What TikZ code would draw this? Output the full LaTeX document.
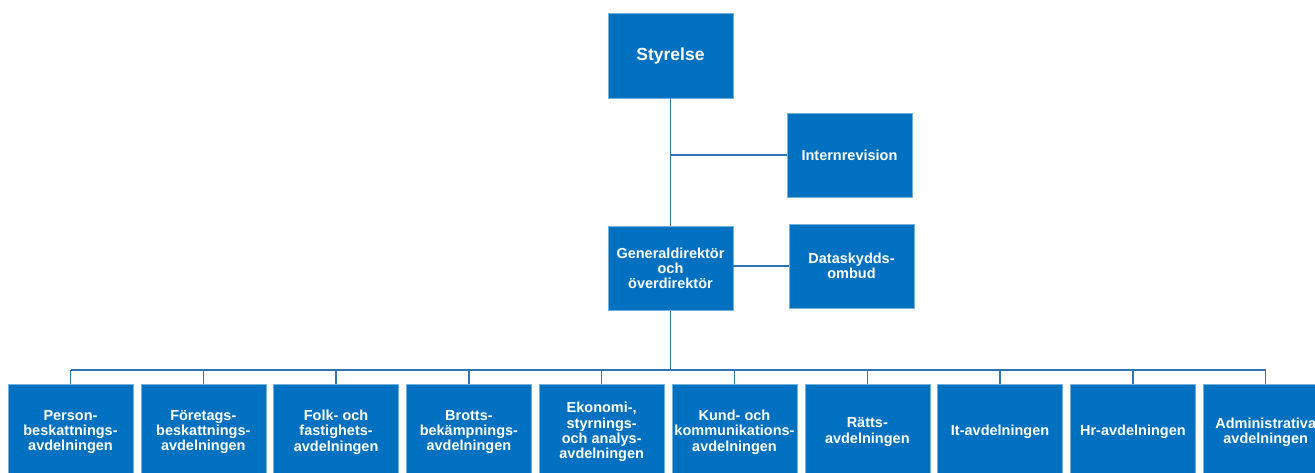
\documentclass[tikz,border=0pt]{standalone}
\usepackage{fontspec}
\setmainfont{Liberation Sans}
\definecolor{boxblue}{HTML}{0070C0}
\definecolor{lineblue}{HTML}{2E75B6}
\begin{document}
\begin{tikzpicture}[x=1pt,y=-1pt,
  unit/.style={fill=boxblue, draw=boxblue!55!white, line width=0.6pt, text=white,
    font=\bfseries\fontsize{14.5}{15.3}\selectfont, align=center, inner sep=0pt,
    minimum width=125pt, minimum height=84pt},
  dept/.style={unit, minimum height=96pt},
  conn/.style={draw=lineblue, line width=1.4pt}]
\useasboundingbox (0,0) rectangle (1315,472);
\clip (0,0) rectangle (1315,472);
\node[unit, minimum height=85pt, font=\bfseries\fontsize{17.5}{19}\selectfont] (sty) at (670.5,55.5) {Styrelse};
\node[unit] (ir) at (849.5,155) {Internrevision};
\node[unit] (gd) at (670.5,268.5) {Generaldirektör\\och\\överdirektör};
\node[unit] (ds) at (851.5,266) {Dataskydds-\\ombud};
\node[dept] (d1) at (70.5,432) {Person-\\beskattnings-\\avdelningen};
\node[dept] (d2) at (203.3,432) {Företags-\\beskattnings-\\avdelningen};
\node[dept] (d3) at (336.1,432) {Folk- och\\fastighets-\\avdelningen};
\node[dept] (d4) at (468.9,432) {Brotts-\\bekämpnings-\\avdelningen};
\node[dept] (d5) at (601.7,432) {Ekonomi-,\\styrnings-\\och analys-\\avdelningen};
\node[dept] (d6) at (734.5,432) {Kund- och\\kommunikations-\\avdelningen};
\node[dept] (d7) at (867.3,432) {Rätts-\\avdelningen};
\node[dept] (d8) at (1000.1,432) {It-avdelningen};
\node[dept] (d9) at (1132.9,432) {Hr-avdelningen};
\node[dept] (d10) at (1265.7,432) {Administrativa\\avdelningen};
\coordinate (bus) at (670.5,370);
\draw[conn] (sty.south) -- (gd.north);
\draw[conn] (sty.south |- ir.west) -- (ir.west);
\draw[conn] (gd.east |- ds.west) -- (ds.west);
\draw[conn] (gd.south) -- (bus);
\draw[conn] (d1.north |- bus) -- (d10.north |- bus);
\foreach \i in {1,...,10} {\draw[conn] (d\i.north |- bus) -- (d\i.north);}
\end{tikzpicture}
\end{document}
